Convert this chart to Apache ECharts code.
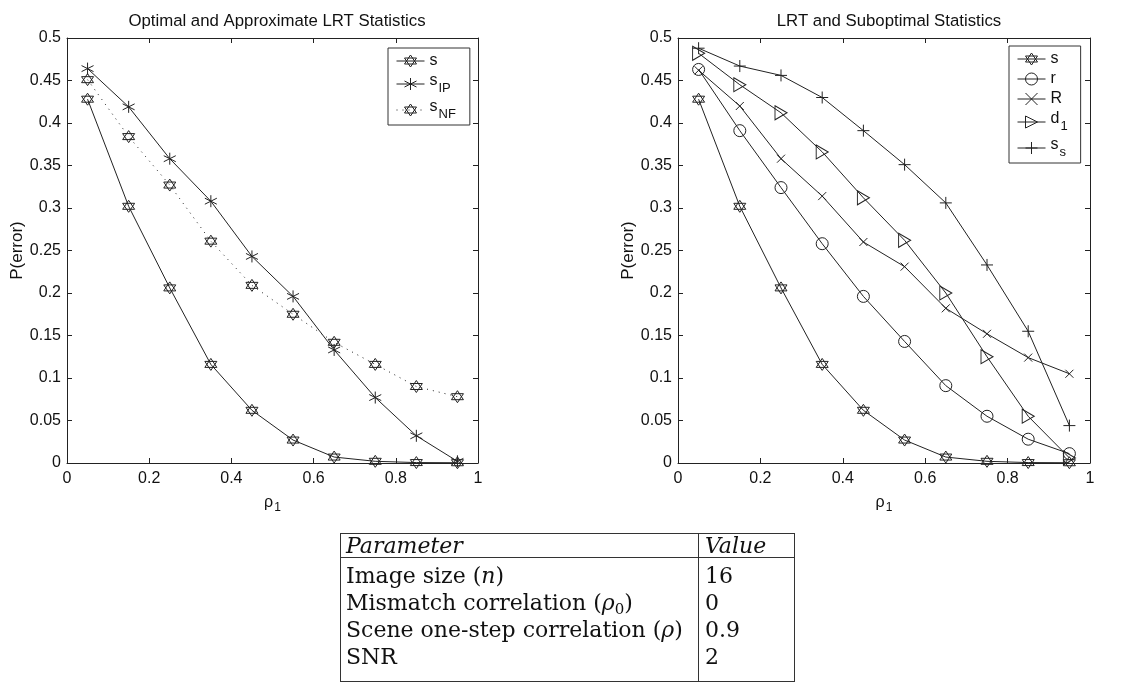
<!DOCTYPE html>
<html>
<head>
<meta charset="utf-8">
<script src="https://cdn.jsdelivr.net/npm/echarts@6/dist/echarts.min.js"></script>
<style>
html,body{margin:0;padding:0;background:#fff;}
#chart{position:absolute;left:0;top:0;width:1139px;height:684px;}
#tbl{position:absolute;left:340px;top:533px;width:455px;height:149px;border:1px solid #333;box-sizing:border-box;font-family:"DejaVu Serif",serif;font-size:22px;color:#111;}
#tbl .row{position:absolute;left:0;width:100%;height:27px;line-height:27px;white-space:nowrap;}
#tbl .p{position:absolute;left:5px;}
#tbl .v{position:absolute;left:364px;}
#tbl .sep{position:absolute;left:357px;top:0;bottom:0;border-left:1px solid #333;}
#tbl .hline{position:absolute;left:0;right:0;top:23px;border-top:1px solid #333;}
#tbl sub{font-size:15px;vertical-align:-4px;line-height:0;}
</style>
</head>
<body>
<div id="chart"></div>
<div id="tbl"></div>
<script>
// ---- data ----
const rhoValues = [0.05, 0.15, 0.25, 0.35, 0.45, 0.55, 0.65, 0.75, 0.85, 0.95];
const xTicks = [0, 0.2, 0.4, 0.6, 0.8, 1];
const yTicks = [0, 0.05, 0.1, 0.15, 0.2, 0.25, 0.3, 0.35, 0.4, 0.45, 0.5];
const sValues   = [0.428, 0.302, 0.206, 0.116, 0.062, 0.027, 0.007, 0.002, 0.0005, 0.0003];
const sIPValues = [0.464, 0.419, 0.358, 0.308, 0.243, 0.196, 0.133, 0.077, 0.032, 0.002];
const sNFValues = [0.451, 0.384, 0.327, 0.261, 0.209, 0.175, 0.142, 0.116, 0.090, 0.078];
const rValues   = [0.463, 0.391, 0.324, 0.258, 0.196, 0.143, 0.091, 0.055, 0.028, 0.011];
const RValues   = [0.462, 0.420, 0.358, 0.314, 0.260, 0.231, 0.182, 0.152, 0.124, 0.105];
const d1Values  = [0.482, 0.445, 0.412, 0.366, 0.312, 0.262, 0.200, 0.125, 0.055, 0.006];
const ssValues  = [0.488, 0.467, 0.456, 0.430, 0.391, 0.351, 0.306, 0.233, 0.155, 0.044];
const titles = ['Optimal and Approximate LRT Statistics', 'LRT and Suboptimal Statistics'];
const yName = 'P(error)';
const tableParams = ['Image size (<i>n</i>)', 'Mismatch correlation (<i>ρ</i><sub>0</sub>)', 'Scene one-step correlation (<i>ρ</i>)', 'SNR'];
const tableValues = ['16', '0', '0.9', '2'];
const tableHeader = ['Parameter', 'Value'];

// ---- table ----
(function(){
  const t = document.getElementById('tbl');
  let h = '<div class="sep"></div><div class="hline"></div>';
  h += '<div class="row" style="top:-2px"><span class="p"><i>' + tableHeader[0] + '</i></span><span class="v"><i>' + tableHeader[1] + '</i></span></div>';
  tableParams.forEach((p, i) => {
    h += '<div class="row" style="top:' + (28 + i * 27) + 'px"><span class="p">' + p + '</span><span class="v">' + tableValues[i] + '</span></div>';
  });
  t.innerHTML = h;
})();

// ---- chart ----
const FONT = '"Liberation Sans", Arial, sans-serif';
const INK = '#222';
const hexSym = 'path://M0,-10L8.66,5L-8.66,5Z M0,10L8.66,-5L-8.66,-5Z';
const astSym = 'path://M0,-10L0,10M-8.66,-5L8.66,5M-8.66,5L8.66,-5';
const xSym = 'path://M-10,-10L10,10M-10,10L10,-10';
const plusSym = 'path://M0,-10L0,10M-10,0L10,0';
const triSym = 'path://M-6,-7L7,0L-6,7Z';

const grids = [
  {left: 67, top: 38, width: 411, height: 425},
  {left: 678, top: 38, width: 412, height: 425}
];

function xAxes(g) {
  const base = {gridIndex: g, type: 'value', min: 0, max: 1, interval: 0.2,
    splitLine: {show: false},
    axisLine: {show: true, onZero: false, lineStyle: {color: INK, width: 1}},
    axisTick: {show: true, inside: true, length: 5, lineStyle: {color: INK}}};
  return [
    Object.assign({}, base, {position: 'bottom',
      axisLabel: {fontSize: 16, color: '#111', fontFamily: FONT, margin: 8},
      name: '{a|ρ}{b|1}', nameLocation: 'middle', nameGap: 28,
      nameTextStyle: {rich: {a: {fontSize: 16, fontFamily: FONT, color: '#111'}, b: {fontSize: 12, fontFamily: FONT, color: '#111', padding: [11, 0, 0, 1]}}}}),
    Object.assign({}, base, {position: 'top', axisLabel: {show: false}})
  ];
}
function yAxes(g) {
  const base = {gridIndex: g, type: 'value', min: 0, max: 0.5, interval: 0.05,
    splitLine: {show: false},
    axisLine: {show: true, onZero: false, lineStyle: {color: INK, width: 1}},
    axisTick: {show: true, inside: true, length: 5, lineStyle: {color: INK}}};
  return [
    Object.assign({}, base, {position: 'left',
      axisLabel: {fontSize: 16, color: '#111', fontFamily: FONT, margin: 6},
      name: yName, nameLocation: 'middle', nameGap: 41, nameRotate: 90,
      nameTextStyle: {fontSize: 17, fontFamily: FONT, color: '#111'}}),
    Object.assign({}, base, {position: 'right', axisLabel: {show: false}})
  ];
}

function mk(name, values, g, symbol, size, dotted) {
  return {
    name: name, type: 'line', xAxisIndex: g * 2, yAxisIndex: g * 2,
    data: rhoValues.map((x, i) => [x, values[i]]),
    symbol: symbol, symbolSize: size, showSymbol: true,
    color: INK,
    lineStyle: {color: INK, width: 1, type: dotted ? [1, 5] : 'solid'},
    itemStyle: {color: 'rgba(255,255,255,0)', borderColor: INK, borderWidth: 1},
    emphasis: {disabled: true},
    animation: false, z: 3
  };
}

const legendNames = {
  's': '{m|s}', 'sIP': '{m|s}{sub|IP}', 'sNF': '{m|s}{sub|NF}',
  'r': '{m|r}', 'R': '{m|R}', 'd1': '{m|d}{sub|1}', 'ss': '{m|s}{sub|s}'
};
const legendRich = {
  m: {fontSize: 16, fontFamily: FONT, color: '#111', verticalAlign: 'top'},
  sub: {fontSize: 13, fontFamily: FONT, color: '#111', verticalAlign: 'top', padding: [9, 0, 0, 1]}
};
const legendCommon = {
  orient: 'vertical', backgroundColor: '#fff', borderColor: '#333', borderWidth: 1,
  itemWidth: 28, itemHeight: 15,
  lineStyle: {width: 1, color: INK},
  itemStyle: {borderWidth: 1, borderColor: INK, color: 'rgba(255,255,255,0)'},
  formatter: n => legendNames[n], textStyle: {rich: legendRich}, selectedMode: false
};

const option = {
  animation: false,
  backgroundColor: '#fff',
  title: [
    {text: titles[0], left: 272, top: 8, textAlign: 'center',
      textStyle: {fontSize: 16.8, fontWeight: 'normal', fontFamily: FONT, color: '#111'}},
    {text: titles[1], left: 884, top: 8, textAlign: 'center',
      textStyle: {fontSize: 16.8, fontWeight: 'normal', fontFamily: FONT, color: '#111'}}
  ],
  grid: grids,
  xAxis: xAxes(0).concat(xAxes(1)),
  yAxis: yAxes(0).concat(yAxes(1)),
  legend: [
    Object.assign({}, legendCommon, {data: ['s', 'sIP', 'sNF'], left: 388, top: 48,
      padding: [5, 14, 4, 8], itemGap: 4}),
    Object.assign({}, legendCommon, {data: ['s', 'r', 'R', 'd1', 'ss'], left: 1009, top: 46,
      padding: [5, 13, 4, 8], itemGap: 4})
  ],
  series: [
    mk('s', sValues, 0, hexSym, 12),
    mk('sIP', sIPValues, 0, astSym, 12),
    mk('sNF', sNFValues, 0, hexSym, 12, true),
    mk('s', sValues, 1, hexSym, 12),
    mk('r', rValues, 1, 'circle', 12),
    mk('R', RValues, 1, xSym, 8),
    mk('d1', d1Values, 1, triSym, [12, 14]),
    mk('ss', ssValues, 1, plusSym, 12)
  ]
};
const chart = echarts.init(document.getElementById('chart'), null, {renderer: 'canvas'});
chart.setOption(option);
</script>
</body>
</html>
